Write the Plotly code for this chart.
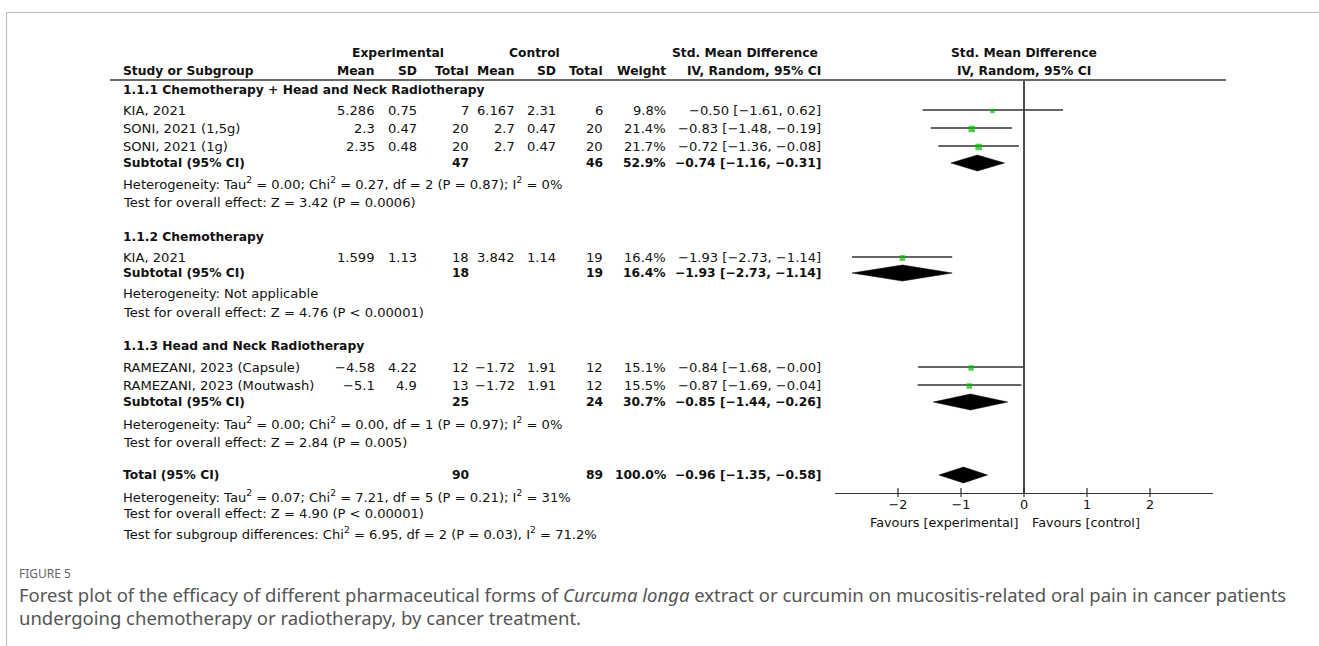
import plotly.graph_objects as go

# ---- study-level data -------------------------------------------------------
studies = ["KIA, 2021", "SONI, 2021 (1,5g)", "SONI, 2021 (1g)",
           "KIA, 2021",
           "RAMEZANI, 2023 (Capsule)", "RAMEZANI, 2023 (Moutwash)"]
study_group = [0, 0, 0, 1, 2, 2]
exp_mean = [5.286, 2.3, 2.35, 1.599, -4.58, -5.1]
exp_sd = [0.75, 0.47, 0.48, 1.13, 4.22, 4.9]
exp_n = [7, 20, 20, 18, 12, 13]
ctl_mean = [6.167, 2.7, 2.7, 3.842, -1.72, -1.72]
ctl_sd = [2.31, 0.47, 0.47, 1.14, 1.91, 1.91]
ctl_n = [6, 20, 20, 19, 12, 12]
weight = [9.8, 21.4, 21.7, 16.4, 15.1, 15.5]
smd = [-0.50, -0.83, -0.72, -1.93, -0.84, -0.87]
ci_lo = [-1.61, -1.48, -1.36, -2.73, -1.68, -1.69]
ci_hi = [0.62, -0.19, -0.08, -1.14, -0.00, -0.04]

# ---- subgroup data ----------------------------------------------------------
groups = ["1.1.1 Chemotherapy + Head and Neck Radiotherapy",
          "1.1.2 Chemotherapy",
          "1.1.3 Head and Neck Radiotherapy"]
sub_exp_n = [47, 18, 25]
sub_ctl_n = [46, 19, 24]
sub_weight = [52.9, 16.4, 30.7]
sub_smd = [-0.74, -1.93, -0.85]
sub_lo = [-1.16, -2.73, -1.44]
sub_hi = [-0.31, -1.14, -0.26]
sub_het = ["Heterogeneity: Tau<sup>2</sup> = 0.00; Chi<sup>2</sup> = 0.27, df = 2 (P = 0.87); I<sup>2</sup> = 0%",
           "Heterogeneity: Not applicable",
           "Heterogeneity: Tau<sup>2</sup> = 0.00; Chi<sup>2</sup> = 0.00, df = 1 (P = 0.97); I<sup>2</sup> = 0%"]
sub_test = ["Test for overall effect: Z = 3.42 (P = 0.0006)",
            "Test for overall effect: Z = 4.76 (P < 0.00001)",
            "Test for overall effect: Z = 2.84 (P = 0.005)"]

# ---- overall ----------------------------------------------------------------
tot_exp_n, tot_ctl_n, tot_weight = 90, 89, 100.0
tot_smd, tot_lo, tot_hi = -0.96, -1.35, -0.58
tot_notes = ["Heterogeneity: Tau<sup>2</sup> = 0.07; Chi<sup>2</sup> = 7.21, df = 5 (P = 0.21); I<sup>2</sup> = 31%",
             "Test for overall effect: Z = 4.90 (P < 0.00001)",
             "Test for subgroup differences: Chi<sup>2</sup> = 6.95, df = 2 (P = 0.03), I<sup>2</sup> = 71.2%"]

tick_vals = [-2, -1, 0, 1, 2]
tick_text = ["\u22122", "\u22121", "0", "1", "2"]

# ---- page geometry (pixels) -------------------------------------------------
W, H = 1319, 646
FONT = "DejaVu Sans"
CAP_FONT = "Noto Sans"
FS = 13.1
FS_BOLD = 12.3
AXIS_Y = 493
HEADER_LINE_Y = 80

# vertical position of every row on the page
group_title_y = [90, 237, 346]
study_y = [110, 128, 146, 257, 367, 385]
sub_y = [163, 273, 402]
sub_het_y = [183, 293, 423]
sub_test_y = [202, 312, 442]
tot_y = 475
tot_notes_y = [496, 513, 533]

# right edges of the numeric columns
COL_NAME = 122
COL_EMEAN, COL_ESD, COL_EN = 376, 418, 470
COL_CMEAN, COL_CSD, COL_CN = 516, 557, 604
COL_W, COL_CI = 667, 822


def fmt(v, nd=None):
    s = f"{v:.{nd}f}" if nd is not None else f"{v:g}"
    return s.replace("-", "\u2212")


def ci_text(m, lo, hi):
    return f"{fmt(m, 2)} [{fmt(lo, 2)}, {fmt(hi, 2)}]"


annotations = []


def txt(x, y, s, anchor="left", bold=False, size=None, color="#111", family=FONT):
    if size is None:
        size = FS_BOLD if bold else FS
    if bold:
        s = f"<b>{s}</b>"
    annotations.append(dict(
        x=x / W, y=y, xref="paper", yref="y", text=s, showarrow=False,
        xanchor=anchor, yanchor="middle", borderpad=0,
        font=dict(family=family, size=size, color=color)))


# headers
txt(398, 53, "Experimental", "center", bold=True)
txt(534, 53, "Control", "center", bold=True)
txt(745, 53, "Std. Mean Difference", "center", bold=True)
txt(1024, 53, "Std. Mean Difference", "center", bold=True)
txt(COL_NAME, 71, "Study or Subgroup", bold=True)
for x, s in [(COL_EMEAN, "Mean"), (COL_ESD, "SD"), (COL_EN, "Total"),
             (COL_CMEAN, "Mean"), (COL_CSD, "SD"), (COL_CN, "Total"),
             (COL_W, "Weight"), (COL_CI, "IV, Random, 95% CI")]:
    txt(x, 71, s, "right", bold=True)
txt(1024, 71, "IV, Random, 95% CI", "center", bold=True)

# study rows
for i, name in enumerate(studies):
    y = study_y[i]
    txt(COL_NAME, y, name)
    txt(COL_EMEAN, y, fmt(exp_mean[i]), "right")
    txt(COL_ESD, y, fmt(exp_sd[i]), "right")
    txt(COL_EN, y, str(exp_n[i]), "right")
    txt(COL_CMEAN, y, fmt(ctl_mean[i]), "right")
    txt(COL_CSD, y, fmt(ctl_sd[i]), "right")
    txt(COL_CN, y, str(ctl_n[i]), "right")
    txt(COL_W, y, f"{weight[i]:.1f}%", "right")
    txt(COL_CI, y, ci_text(smd[i], ci_lo[i], ci_hi[i]), "right")

# subgroup rows
for g, title in enumerate(groups):
    txt(COL_NAME, group_title_y[g], title, bold=True)
    y = sub_y[g]
    txt(COL_NAME, y, "Subtotal (95% CI)", bold=True)
    txt(COL_EN, y, str(sub_exp_n[g]), "right", bold=True)
    txt(COL_CN, y, str(sub_ctl_n[g]), "right", bold=True)
    txt(COL_W, y, f"{sub_weight[g]:.1f}%", "right", bold=True)
    txt(COL_CI, y, ci_text(sub_smd[g], sub_lo[g], sub_hi[g]), "right", bold=True)
    txt(COL_NAME, sub_het_y[g], sub_het[g])
    txt(COL_NAME, sub_test_y[g], sub_test[g])

# overall rows
txt(COL_NAME, tot_y, "Total (95% CI)", bold=True)
txt(COL_EN, tot_y, str(tot_exp_n), "right", bold=True)
txt(COL_CN, tot_y, str(tot_ctl_n), "right", bold=True)
txt(COL_W, tot_y, f"{tot_weight:.1f}%", "right", bold=True)
txt(COL_CI, tot_y, ci_text(tot_smd, tot_lo, tot_hi), "right", bold=True)
for s, y in zip(tot_notes, tot_notes_y):
    txt(COL_NAME, y, s)

# favours labels under the axis
txt(1019, 522, "Favours [experimental]", "right", size=12.8)
txt(1031, 522, "Favours [control]", "left", size=12.8)

# caption
txt(18, 573, "FIGURE 5", size=12, color="#666", family=CAP_FONT)
txt(18, 594, "Forest plot of the efficacy of different pharmaceutical forms of <i>Curcuma longa</i> extract "
             "or curcumin on mucositis-related oral pain in cancer patients",
    size=18.5, color="#555", family=CAP_FONT)
txt(18, 617, "undergoing chemotherapy or radiotherapy, by cancer treatment.",
    size=18.5, color="#555", family=CAP_FONT)

fig = go.Figure()

# line of no effect
fig.add_trace(go.Scatter(x=[0, 0], y=[HEADER_LINE_Y, AXIS_Y], mode="lines",
                         line=dict(color="#111", width=1.5), hoverinfo="skip"))

# confidence intervals of each study
ci_x, ci_y = [], []
for i in range(len(studies)):
    ci_x += [ci_lo[i], ci_hi[i], None]
    ci_y += [study_y[i], study_y[i], None]
fig.add_trace(go.Scatter(x=ci_x, y=ci_y, mode="lines",
                         line=dict(color="#333", width=1.5), hoverinfo="skip"))

# point estimates, square size grows with weight
fig.add_trace(go.Scatter(
    x=smd, y=[v + 1 for v in study_y], mode="markers",
    marker=dict(symbol="square", color="#00c000",
                size=[1.4 * w ** 0.5 for w in weight], line=dict(width=0)),
    hoverinfo="skip"))


# pooled diamonds
def diamond(m, lo, hi, yc, half=8):
    fig.add_trace(go.Scatter(
        x=[lo, m, hi, m, lo], y=[yc, yc - half, yc, yc + half, yc],
        mode="lines", fill="toself", fillcolor="#000",
        line=dict(color="#000", width=0.5), hoverinfo="skip"))


for g in range(len(groups)):
    diamond(sub_smd[g], sub_lo[g], sub_hi[g], sub_y[g])
diamond(tot_smd, tot_lo, tot_hi, tot_y)

# tick marks crossing the axis line
tk_x, tk_y = [], []
for t in tick_vals:
    tk_x += [t, t, None]
    tk_y += [AXIS_Y - 5, AXIS_Y + 4, None]
fig.add_trace(go.Scatter(x=tk_x, y=tk_y, mode="lines",
                         line=dict(color="#333", width=1.2), hoverinfo="skip"))

shapes = [
    # header rule
    dict(type="line", xref="paper", yref="y", x0=110 / W, x1=1226 / W,
         y0=HEADER_LINE_Y, y1=HEADER_LINE_Y, line=dict(color="#6a6a6a", width=2)),
    # frame around the figure
    dict(type="line", xref="paper", yref="y", x0=6.5 / W, x1=1, y0=12.5, y1=12.5,
         line=dict(color="#bdbdbd", width=1.2)),
    dict(type="line", xref="paper", yref="y", x0=6.5 / W, x1=6.5 / W, y0=12.5, y1=H,
         line=dict(color="#bdbdbd", width=1.2)),
]

fig.update_layout(
    width=W, height=H, margin=dict(l=0, r=0, t=0, b=0),
    paper_bgcolor="white", plot_bgcolor="white", showlegend=False,
    annotations=annotations, shapes=shapes,
    xaxis=dict(domain=[835 / W, 1213 / W], range=[-3, 3], showgrid=False,
               zeroline=False, showline=True, linecolor="#333", linewidth=1.2,
               tickvals=tick_vals, ticktext=tick_text, ticks="",
               anchor="free", position=1 - AXIS_Y / H,
               tickfont=dict(family=FONT, size=12.8, color="#111"), fixedrange=True),
    yaxis=dict(domain=[0, 1], range=[H, 0], visible=False, fixedrange=True),
)

fig.write_html("out.html")
